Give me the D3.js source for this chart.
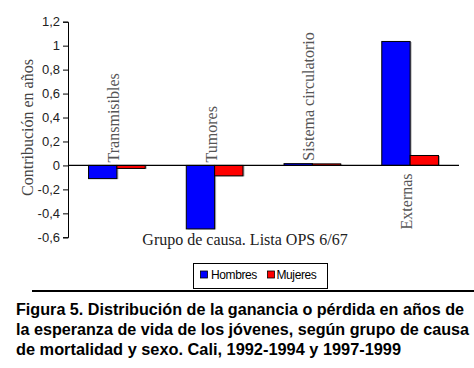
<!DOCTYPE html>
<html><head><meta charset="utf-8">
<script src="https://cdn.jsdelivr.net/npm/d3@7"></script>
<style>body{margin:0;background:#fff}svg{display:block}</style>
</head><body>
<svg id="c" width="474" height="368"></svg>
<script>
const categories = ["Transmisibles", "Tumores", "Sistema circulatorio", "Externas"];
const seriesNames = ["Hombres", "Mujeres"];
const hombres = [-0.11, -0.53, 0.015, 1.035];
const mujeres = [-0.025, -0.087, 0.013, 0.083];
const yTicks = [-0.6, -0.4, -0.2, 0, 0.2, 0.4, 0.6, 0.8, 1, 1.2];
const colors = ["#0000ff", "#ff0000"];
const yTitle = "Contribución en años";
const xTitle = "Grupo de causa. Lista OPS 6/67";
const caption = ["Figura 5. Distribución de la ganancia o pérdida en años de",
  "la esperanza de vida de los jóvenes, según grupo de causa",
  "de mortalidad y sexo. Cali, 1992-1994 y 1997-1999"];

const svg = d3.select("#c");
const L = 68, R = 459, T = 21.7, B = 237.3;
const y = d3.scaleLinear().domain([-0.6, 1.2]).range([B, T]);
const x = d3.scaleBand().domain(categories).range([L, R]);
const sub = d3.scaleBand().domain(seriesNames).range([0, x.bandwidth() * 0.58]);
const off = x.bandwidth() * 0.21;
const series = [hombres, mujeres];

// y axis
const yAxis = d3.axisLeft(y).tickValues(yTicks).tickSize(5).tickPadding(3)
  .tickFormat(d => String(+d.toFixed(1)).replace(".", ","));
const ga = svg.append("g").attr("transform", `translate(${L},0)`).call(yAxis);
ga.select(".domain").attr("stroke", "#000");
ga.selectAll(".tick line").attr("stroke", "#000");
ga.selectAll(".tick text").attr("font-family", "Liberation Sans, Arial, sans-serif")
  .attr("font-size", 13).attr("fill", "#222");

// bars
series.forEach((vals, si) => {
  const g = svg.append("g");
  vals.forEach((v, i) => {
    const bx = x(categories[i]) + off + sub(seriesNames[si]);
    const w = sub.bandwidth();
    const y0 = Math.min(y(0), y(v)), h = Math.abs(y(v) - y(0));
    g.append("rect").attr("x", bx + 1.5).attr("y", y0 + 0.5).attr("width", w).attr("height", h)
      .attr("fill", "#b0b0b0");
    g.append("rect").attr("x", bx).attr("y", y0).attr("width", w).attr("height", h)
      .attr("fill", colors[si]).attr("stroke", "#000").attr("stroke-width", 1);
  });
});

// zero line
svg.append("line").attr("x1", L).attr("x2", R).attr("y1", y(0)).attr("y2", y(0))
  .attr("stroke", "#000").attr("stroke-width", 1.3);

// category labels
categories.forEach((c, i) => {
  const cx = x(c) + x.bandwidth() / 2 + 2;
  const maxV = Math.max(hombres[i], mujeres[i]);
  const below = maxV > 0.5;
  const ly = below ? y(0) + 8 : Math.min(y(0), y(Math.max(0, maxV))) - 3;
  svg.append("text").attr("transform", `translate(${cx},${ly}) rotate(-90)`)
    .attr("text-anchor", below ? "end" : "start")
    .attr("font-family", "Liberation Serif, Times New Roman, serif").attr("font-size", 16)
    .attr("fill", "#555").text(c);
});

// axis titles
svg.append("text").attr("transform", `translate(32.5,127.5) rotate(-90)`).attr("text-anchor", "middle")
  .attr("font-family", "Liberation Serif, Times New Roman, serif").attr("font-size", 16)
  .attr("fill", "#444").text(yTitle);
svg.append("text").attr("x", 245).attr("y", 245).attr("text-anchor", "middle")
  .attr("font-family", "Liberation Serif, Times New Roman, serif").attr("font-size", 16)
  .attr("fill", "#222").text(xTitle);

// legend
const lg = svg.append("g");
lg.append("rect").attr("x", 193.5).attr("y", 263.5).attr("width", 134).attr("height", 25)
  .attr("fill", "#fff").attr("stroke", "#000").attr("stroke-width", 1);
const legX = [200.5, 267.5], legTX = [211, 276.5];
seriesNames.forEach((s, i) => {
  lg.append("rect").attr("x", legX[i]).attr("y", 271).attr("width", 7).attr("height", 7)
    .attr("fill", colors[i]).attr("stroke", "#000").attr("stroke-width", 0.8);
  lg.append("text").attr("x", legTX[i]).attr("y", 279).attr("font-family", "Liberation Sans, Arial, sans-serif")
    .attr("font-size", 12).attr("letter-spacing", -0.4).attr("fill", "#000").text(s);
});

// rule + caption
svg.append("line").attr("x1", 32).attr("x2", 474).attr("y1", 291).attr("y2", 291)
  .attr("stroke", "#000").attr("stroke-width", 2);
caption.forEach((t, i) => {
  svg.append("text").attr("x", 16).attr("y", 315 + i * 20)
    .attr("font-family", "Liberation Sans, Arial, sans-serif").attr("font-size", 16).attr("font-weight", "bold")
    .attr("fill", "#000").attr("textLength", [448, 453, 385][i]).attr("lengthAdjust", "spacingAndGlyphs").text(t);
});
</script>
</body></html>
